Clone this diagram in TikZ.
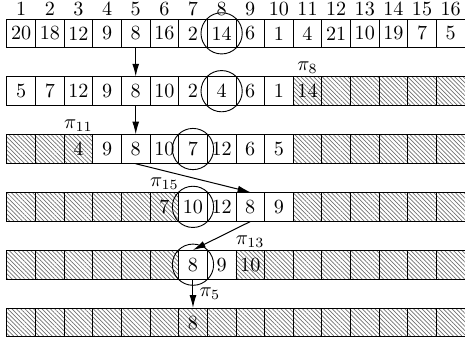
\documentclass[tikz,border=0pt]{standalone}
\usepackage{tikz}
\usetikzlibrary{arrows.meta,patterns,patterns.meta}
\definecolor{schwarz}{HTML}{000000}
\definecolor{hgrau}{HTML}{707070}
\tikzset{
  zelle/.style={draw=schwarz,minimum width=5mm,minimum height=5mm,inner sep=0pt,line width=0.4pt},
  schraff/.style={pattern={Lines[angle=-45,distance=1.5pt,line width=0.35pt]},pattern color=hgrau},
  pfeil/.style={-{Latex[length=2.2mm,width=1.2mm]},schwarz,line width=0.5pt},
  kreis/.style={circle,draw=schwarz,minimum size=7.2mm,inner sep=0pt,line width=0.45pt},
  perm/.style={inner sep=1.2pt},
  idx/.style={inner sep=1.2pt},
}

\begin{document}
\begin{tikzpicture}
  \useasboundingbox (-0.12,0.332) rectangle (8.0,-5.67);
  % Schraffur der bereits fixierten Felder
  \fill[schraff] (5,-1.01) rectangle (8,-1.51);
  \fill[schraff] (0,-2.02) rectangle (1.5,-2.52);
  \fill[schraff] (5,-2.02) rectangle (8,-2.52);
  \fill[schraff] (0,-3.03) rectangle (3,-3.53);
  \fill[schraff] (5,-3.03) rectangle (8,-3.53);
  \fill[schraff] (0,-4.04) rectangle (3,-4.54);
  \fill[schraff] (4,-4.04) rectangle (8,-4.54);
  \fill[schraff] (0,-5.05) rectangle (8,-5.55);
  % Zeilen 1 bis 6
  \foreach \w [count=\i] in {20,18,12,9,8,16,2,14,6,1,4,21,10,19,7,5}
    \node[zelle] (a\i) at (\i*0.5-0.25,-0.25) {\w};
  \foreach \w [count=\i] in {5,7,12,9,8,10,2,4,6,1,14,{},{},{},{},{}}
    \node[zelle] (b\i) at (\i*0.5-0.25,-1.26) {\w};
  \foreach \w [count=\i] in {{},{},4,9,8,10,7,12,6,5,{},{},{},{},{},{}}
    \node[zelle] (c\i) at (\i*0.5-0.25,-2.27) {\w};
  \foreach \w [count=\i] in {{},{},{},{},{},7,10,12,8,9,{},{},{},{},{},{}}
    \node[zelle] (d\i) at (\i*0.5-0.25,-3.28) {\w};
  \foreach \w [count=\i] in {{},{},{},{},{},{},8,9,10,{},{},{},{},{},{},{}}
    \node[zelle] (e\i) at (\i*0.5-0.25,-4.29) {\w};
  \foreach \w [count=\i] in {{},{},{},{},{},{},8,{},{},{},{},{},{},{},{},{}}
    \node[zelle] (f\i) at (\i*0.5-0.25,-5.30) {\w};
  % Indizes oben
  \foreach \i in {1,...,16}
    \node[idx,above] (n\i) at (a\i.north) {\i};
  % Pivotelemente
  \node[kreis] (k1) at (a8) {};
  \node[kreis] (k2) at (b8) {};
  \node[kreis] (k3) at (c7) {};
  \node[kreis] (k4) at (d7) {};
  \node[kreis] (k5) at (e7) {};
  % Permutationen
  \node[perm,above] (p8) at (b11.north) {$\pi_{8}$};
  \node[perm,above] (p11) at (c3.north) {$\pi_{11}$};
  \node[perm,above] (p15) at (d6.north) {$\pi_{15}$};
  \node[perm,above] (p13) at (e9.north) {$\pi_{13}$};
  \draw[pfeil] (a5.south) -- (b5.north);
  \draw[pfeil] (b5.south) -- (c5.north);
  \draw[pfeil] (c5.south) -- (d9.north);
  \draw[pfeil] (d9.south) -- (e7.north);
  \draw[pfeil] (e7.south) -- (f7.north)
    node[midway,right,inner sep=3pt] (p5) {$\pi_{5}$};
\end{tikzpicture}
\end{document}
